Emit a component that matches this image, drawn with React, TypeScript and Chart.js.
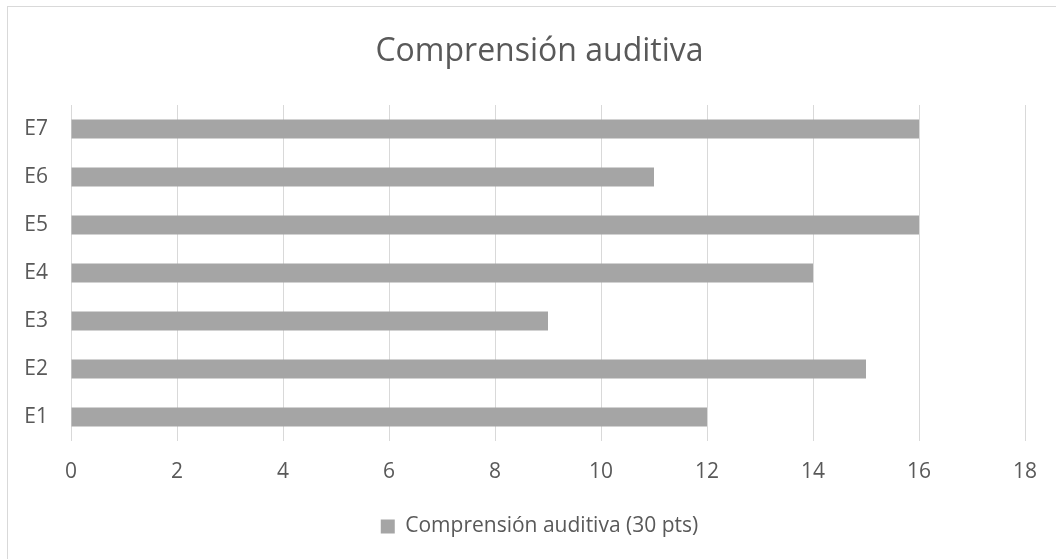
import React, { useEffect, useRef } from "react";
import { Chart, registerables } from "chart.js";

Chart.register(...registerables);

const categories = ["E1", "E2", "E3", "E4", "E5", "E6", "E7"];
const values = [12, 15, 9, 14, 16, 11, 16];
const seriesLabel = "Comprensión auditiva (30 pts)";
const chartTitle = "Comprensión auditiva";
const xMin = 0;
const xMax = 18;
const xStep = 2;

const FONT = "'Open Sans', sans-serif";
const TEXT = "#595959";

// Centre the title and legend over the region right of the category labels
const shiftBlocks = {
  id: "shiftBlocks",
  afterLayout(chart: any) {
    if (chart.titleBlock) chart.titleBlock.left = 54;
    if (chart.legend) chart.legend.left = 54;
  },
};

export default function App() {
  const ref = useRef<HTMLCanvasElement | null>(null);

  useEffect(() => {
    if (!ref.current) return;
    const chart = new Chart(ref.current, {
      type: "bar",
      data: {
        labels: categories,
        datasets: [
          {
            label: seriesLabel,
            data: values,
            backgroundColor: "#A5A5A5",
            borderWidth: 0,
            barPercentage: 0.4,
            categoryPercentage: 1,
          },
        ],
      },
      plugins: [shiftBlocks],
      options: {
        indexAxis: "y",
        animation: false,
        responsive: false,
        maintainAspectRatio: false,
        layout: { padding: { left: 0, right: 31, top: 0, bottom: 12 } },
        plugins: {
          title: {
            display: true,
            text: chartTitle,
            color: TEXT,
            font: { family: FONT, size: 32, weight: "normal" },
            padding: { top: 33, bottom: 33.6 },
          },
          legend: {
            display: true,
            position: "bottom",
            labels: {
              color: TEXT,
              font: { family: FONT, size: 21 },
              boxWidth: 14,
              boxHeight: 14,
              padding: 10,
            },
          },
          tooltip: { enabled: false },
        },
        scales: {
          x: {
            min: xMin,
            max: xMax,
            ticks: {
              stepSize: xStep,
              color: TEXT,
              font: { family: FONT, size: 21 },
              padding: 18,
            },
            grid: { color: "#D9D9D9", lineWidth: 1, drawTicks: false },
            border: { display: false },
            afterFit: (s: any) => {
              s.height = 65;
            },
          },
          y: {
            reverse: true,
            ticks: {
              color: TEXT,
              font: { family: FONT, size: 21 },
              padding: 23,
            },
            grid: { display: false, drawTicks: false },
            border: { display: false },
            afterFit: (s: any) => {
              s.width = 71;
            },
          },
        },
      },
    });
    return () => chart.destroy();
  }, []);

  return (
    <div style={{ position: "absolute", left: 0, top: 0, width: 1056, height: 559, background: "#fff", overflow: "hidden" }}>
      <div
        style={{
          position: "absolute",
          left: 7,
          top: 6,
          width: 1060,
          height: 560,
          border: "1px solid #D9D9D9",
          boxSizing: "border-box",
        }}
      />
      <canvas ref={ref} width={1056} height={559} style={{ position: "absolute", left: 0, top: 0 }} />
    </div>
  );
}
